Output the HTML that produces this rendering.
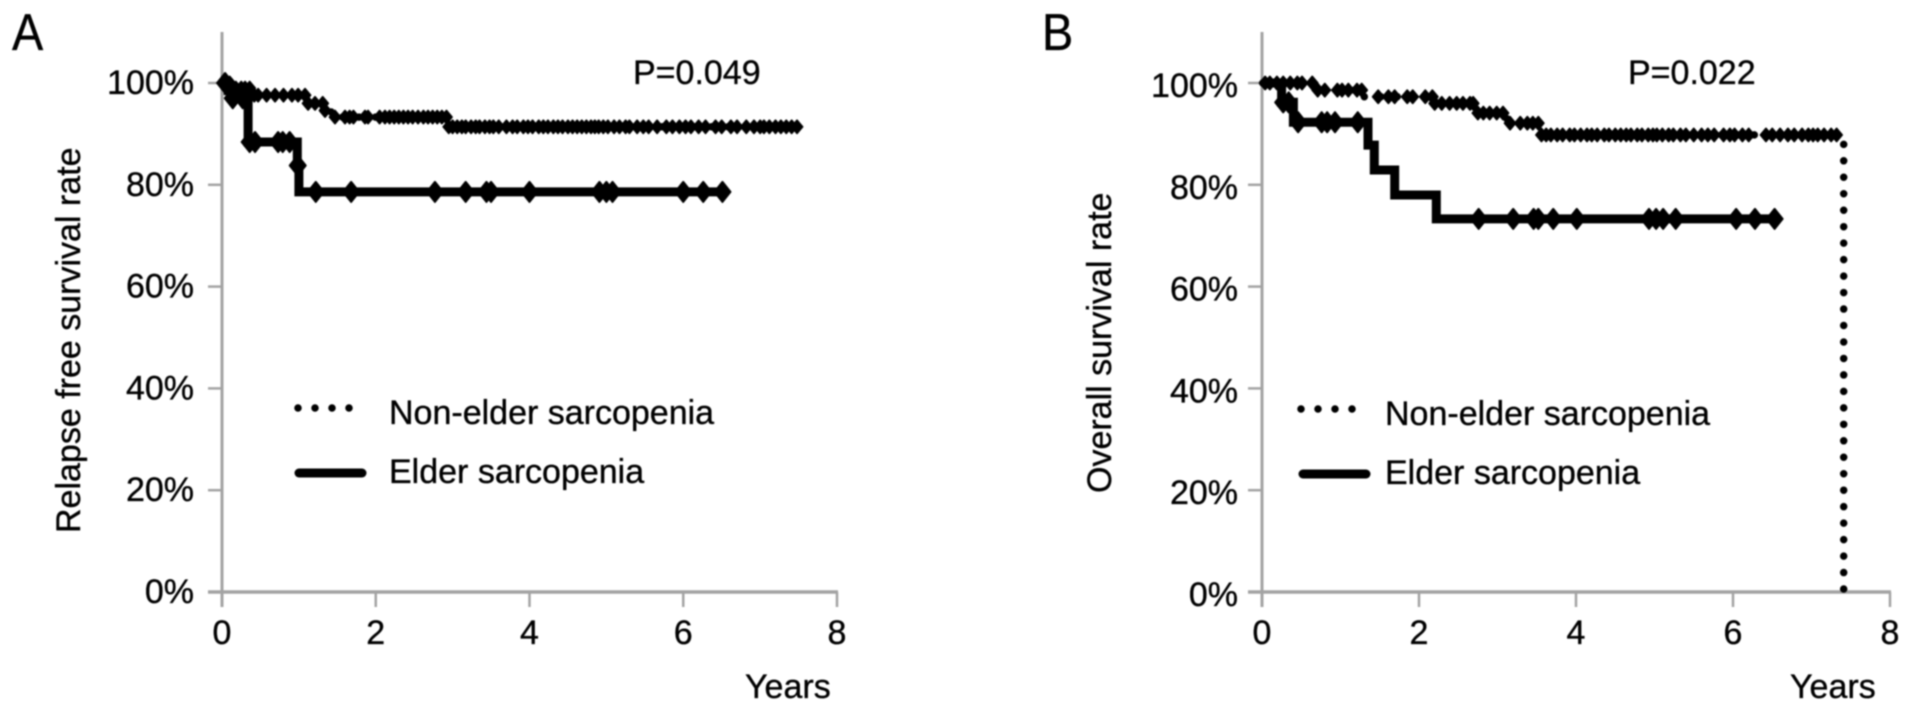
<!DOCTYPE html>
<html lang="en">
<head>
<meta charset="utf-8">
<title>Kaplan-Meier survival curves</title>
<style>
  html, body { margin: 0; padding: 0; background: #fff; }
  body { width: 1913px; height: 712px; overflow: hidden; }
  svg { display: block; filter: blur(0.9px); }
  text { font-family: "Liberation Sans", sans-serif; font-size: 34px; fill: #000; stroke: #000; stroke-width: 0.35px; }
  .panel-letter { font-size: 52px; }
</style>
</head>
<body>
<svg id="figure" xmlns="http://www.w3.org/2000/svg" width="1913" height="712" viewBox="0 0 1913 712">
  <rect x="0" y="0" width="1913" height="712" fill="#fff"/>
  <g id="panel-a">
    <text class="panel-letter" transform="translate(12 50) scale(0.9 1)" x="0" y="0">A</text>
    <text x="633" y="84">P=0.049</text>
    <text transform="translate(80 533) rotate(-90)" x="0" y="0">Relapse free survival rate</text>
    <text x="745" y="698">Years</text>
    <line x1="298" y1="408" x2="350" y2="408" stroke="#000" stroke-width="7.5" stroke-linecap="round" stroke-dasharray="0 17"/>
    <text x="389" y="424">Non-elder sarcopenia</text>
    <line x1="299" y1="473" x2="362" y2="473" stroke="#000" stroke-width="9" stroke-linecap="round"/>
    <text x="389" y="483">Elder sarcopenia</text>
  </g>
  <g id="panel-b">
    <text class="panel-letter" transform="translate(1042 50) scale(0.9 1)" x="0" y="0">B</text>
    <text x="1628" y="84">P=0.022</text>
    <text transform="translate(1111 493) rotate(-90)" x="0" y="0">Overall survival rate</text>
    <text x="1790" y="698">Years</text>
    <line x1="1301" y1="409" x2="1353" y2="409" stroke="#000" stroke-width="7.5" stroke-linecap="round" stroke-dasharray="0 17"/>
    <text x="1385" y="425">Non-elder sarcopenia</text>
    <line x1="1303" y1="474" x2="1366" y2="474" stroke="#000" stroke-width="9" stroke-linecap="round"/>
    <text x="1385" y="484">Elder sarcopenia</text>
  </g>
</svg>
<script>
// Axis tick values (shared by both panels)
var xTickValues = [0, 2, 4, 6, 8];
var xTickLabels = ["0", "2", "4", "6", "8"];
var yTickValues = [0, 20, 40, 60, 80, 100];
var yTickLabels = ["0%", "20%", "40%", "60%", "80%", "100%"];

// Panel A: relapse free survival
var aElderStepTimes = [0, 0.08, 0.13, 0.34, 0.98, 1.0];
var aElderStepValues = [100, 98.5, 97, 88.4, 83.8, 78.6];
var aElderEndTime = 6.51;
var aElderCensorTimes = [0.04, 0.14, 0.27, 0.36, 0.43, 0.73, 0.79, 0.88, 0.985, 1.22, 1.68, 2.77, 3.17, 3.44, 3.5, 4.0, 4.91, 5.0, 5.08, 6.0, 6.26, 6.51];

var aOtherStepTimes = [0, 0.12, 0.4, 1.1, 1.33, 1.42, 2.93];
var aOtherStepValues = [100, 99, 97.6, 96, 94.6, 93.3, 91.4];
var aOtherEndTime = 7.48;
var aOtherCensorTimes = [0.03, 0.07, 0.1, 0.15, 0.18, 0.25, 0.3, 0.36, 0.42, 0.47, 0.58, 0.69, 0.8, 0.91, 0.99, 1.08, 1.12, 1.21, 1.31, 1.34,
  1.47, 1.6, 1.66, 1.71, 1.86, 1.9, 2.05, 2.12, 2.18, 2.24, 2.3, 2.36, 2.42, 2.48, 2.55, 2.62, 2.68, 2.74, 2.8, 2.86, 2.92,
  2.95, 3.0, 3.06, 3.12, 3.17, 3.24, 3.3, 3.35, 3.42, 3.48, 3.53, 3.6, 3.7, 3.78, 3.84, 3.92, 3.98, 4.04, 4.12, 4.18, 4.24, 4.31, 4.37, 4.43, 4.5, 4.56, 4.62, 4.68, 4.74, 4.8, 4.85, 4.9, 4.96, 5.02, 5.1, 5.17, 5.25, 5.3, 5.4, 5.48, 5.55, 5.66, 5.78, 5.86, 5.95, 6.03, 6.1, 6.2, 6.29, 6.42, 6.5, 6.62, 6.7, 6.82, 6.92, 7.0, 7.05, 7.12, 7.2, 7.27, 7.34, 7.41, 7.48];

// Panel B: overall survival
var bElderStepTimes = [0, 0.25, 0.4, 1.35, 1.43, 1.69, 2.22];
var bElderStepValues = [100, 96.2, 92.3, 87.8, 82.9, 78, 73.3];
var bElderEndTime = 6.53;
var bElderCensorTimes = [0.27, 0.34, 0.46, 0.76, 0.83, 0.93, 1.22, 2.76, 3.2, 3.46, 3.52, 3.71, 4.01, 4.93, 5.02, 5.11, 5.27, 6.04, 6.28, 6.53];

var bOtherStepTimes = [0, 0.68, 1.29, 2.2, 2.73, 3.12, 3.54, 7.41];
var bOtherStepValues = [100, 98.6, 97.3, 96, 94.1, 92.1, 89.8, 0];
var bOtherEndTime = 7.41;
var bOtherCensorTimes = [0.04, 0.1, 0.19, 0.27, 0.36, 0.45, 0.51, 0.64, 0.71, 0.8, 0.96, 1.02, 1.1, 1.21, 1.27, 1.48, 1.61, 1.69, 1.85, 1.92, 2.08, 2.17,
  2.2, 2.29, 2.39, 2.48, 2.56, 2.65, 2.69, 2.75, 2.82, 2.9, 2.99, 3.07, 3.16, 3.29, 3.38, 3.45, 3.52,
  3.56, 3.62, 3.68, 3.76, 3.83, 3.92, 3.98, 4.06, 4.14, 4.2, 4.27, 4.36, 4.42, 4.5, 4.57, 4.64, 4.7, 4.78, 4.84, 4.92, 4.98, 5.03, 5.1, 5.18, 5.24, 5.33, 5.4, 5.5, 5.6, 5.68, 5.76, 5.88, 5.96, 6.02, 6.12, 6.2, 6.42, 6.5, 6.6, 6.7, 6.78, 6.88, 6.96, 7.02, 7.08, 7.16, 7.25, 7.32];

var SVG_NS = "http://www.w3.org/2000/svg";
var AXIS_COLOR = "#a3a3a3";

function makeScale(d0, r0, d1, r1) {
  return function (v) { return r0 + (v - d0) * (r1 - r0) / (d1 - d0); };
}

function valueAt(stepTimes, stepValues, t) {
  var v = stepValues[0];
  for (var i = 0; i < stepTimes.length; i++) {
    if (stepTimes[i] <= t) v = stepValues[i];
  }
  return v;
}

function add(parent, tag, attrs) {
  var el = document.createElementNS(SVG_NS, tag);
  for (var k in attrs) el.setAttribute(k, attrs[k]);
  parent.appendChild(el);
  return el;
}

// The step path is traced from the end of follow-up back to time zero.
function stepPath(stepTimes, stepValues, endTime, sx, sy) {
  var pts = [[sx(0), sy(stepValues[0])]];
  for (var i = 1; i < stepTimes.length; i++) {
    pts.push([sx(stepTimes[i]), sy(stepValues[i - 1])]);
    pts.push([sx(stepTimes[i]), sy(stepValues[i])]);
  }
  pts.push([sx(endTime), sy(stepValues[stepValues.length - 1])]);
  pts.reverse();
  return "M" + pts.map(function (p) { return p[0].toFixed(1) + " " + p[1].toFixed(1); }).join("L");
}

function drawAxes(group, prefix, sx, sy, xMaxTick, yLabelX, yLabelDy, axisTopY) {
  var yAxis = add(group, "line", { x1: sx(0), y1: axisTopY, x2: sx(0), y2: sy(0) + 15, stroke: AXIS_COLOR, "stroke-width": 3 });
  
  

  var xAxis = add(group, "line", { x1: sx(0) - 14, y1: sy(0), x2: sx(xMaxTick) + 1, y2: sy(0), stroke: AXIS_COLOR, "stroke-width": 3.5 });
  
  

  yTickValues.forEach(function (v, i) {
    var tick = add(group, "line", { x1: sx(0) - 14, y1: sy(v), x2: sx(0), y2: sy(v), stroke: AXIS_COLOR, "stroke-width": 2.5 });
    
    
    var label = add(group, "text", { x: yLabelX, y: sy(v) + yLabelDy, "text-anchor": "end" });
    
    
    label.textContent = yTickLabels[i];
  });

  xTickValues.forEach(function (v, i) {
    var tick = add(group, "line", { x1: sx(v), y1: sy(0), x2: sx(v), y2: sy(0) + 15, stroke: AXIS_COLOR, "stroke-width": 2.5 });
    
    
    var label = add(group, "text", { x: sx(v), y: sy(0) + 52, "text-anchor": "middle" });
    
    
    label.textContent = xTickLabels[i];
  });
}

function drawOtherSeries(group, prefix, stepTimes, stepValues, endTime, censorTimes, sx, sy) {
  var line = add(group, "path", { d: stepPath(stepTimes, stepValues, endTime, sx, sy), fill: "none", stroke: "#000", "stroke-width": 7.5, "stroke-linecap": "round", "stroke-dasharray": "0 16.47", "stroke-dashoffset": 13.5 });
  
  
  censorTimes.forEach(function (t) {
    var cx = sx(t), cy = sy(valueAt(stepTimes, stepValues, t));
    var mark = add(group, "polygon", { points: (cx - 5.5) + "," + cy + " " + cx + "," + (cy - 6.5) + " " + (cx + 5.5) + "," + cy + " " + cx + "," + (cy + 6.5), fill: "#000", stroke: "#000", "stroke-width": 1.8, "stroke-linejoin": "round" });
    
    
  });
}

function drawElderSeries(group, prefix, stepTimes, stepValues, endTime, censorTimes, sx, sy) {
  var line = add(group, "path", { d: stepPath(stepTimes, stepValues, endTime, sx, sy), fill: "none", stroke: "#000", "stroke-width": 9, "stroke-linejoin": "miter" });
  
  
  censorTimes.forEach(function (t) {
    var cx = sx(t), cy = sy(valueAt(stepTimes, stepValues, t));
    var mark = add(group, "polygon", { points: (cx - 8) + "," + cy + " " + cx + "," + (cy - 10) + " " + (cx + 8) + "," + cy + " " + cx + "," + (cy + 10), fill: "#000", stroke: "#000", "stroke-width": 2, "stroke-linejoin": "round" });
    
    
  });
}

var yScale = makeScale(0, 592, 100, 83);

var panelA = document.getElementById("panel-a");
var xScaleA = makeScale(0, 222, 8, 837);
drawAxes(panelA, "panel-a", xScaleA, yScale, 8, 194, 11, 32);
drawOtherSeries(panelA, "panel-a", aOtherStepTimes, aOtherStepValues, aOtherEndTime, aOtherCensorTimes, xScaleA, yScale);
drawElderSeries(panelA, "panel-a", aElderStepTimes, aElderStepValues, aElderEndTime, aElderCensorTimes, xScaleA, yScale);

var panelB = document.getElementById("panel-b");
var xScaleB = makeScale(0, 1262, 8, 1890);
drawAxes(panelB, "panel-b", xScaleB, yScale, 8, 1238, 14, 32);
drawOtherSeries(panelB, "panel-b", bOtherStepTimes, bOtherStepValues, bOtherEndTime, bOtherCensorTimes, xScaleB, yScale);
drawElderSeries(panelB, "panel-b", bElderStepTimes, bElderStepValues, bElderEndTime, bElderCensorTimes, xScaleB, yScale);
</script>
</body>
</html>
